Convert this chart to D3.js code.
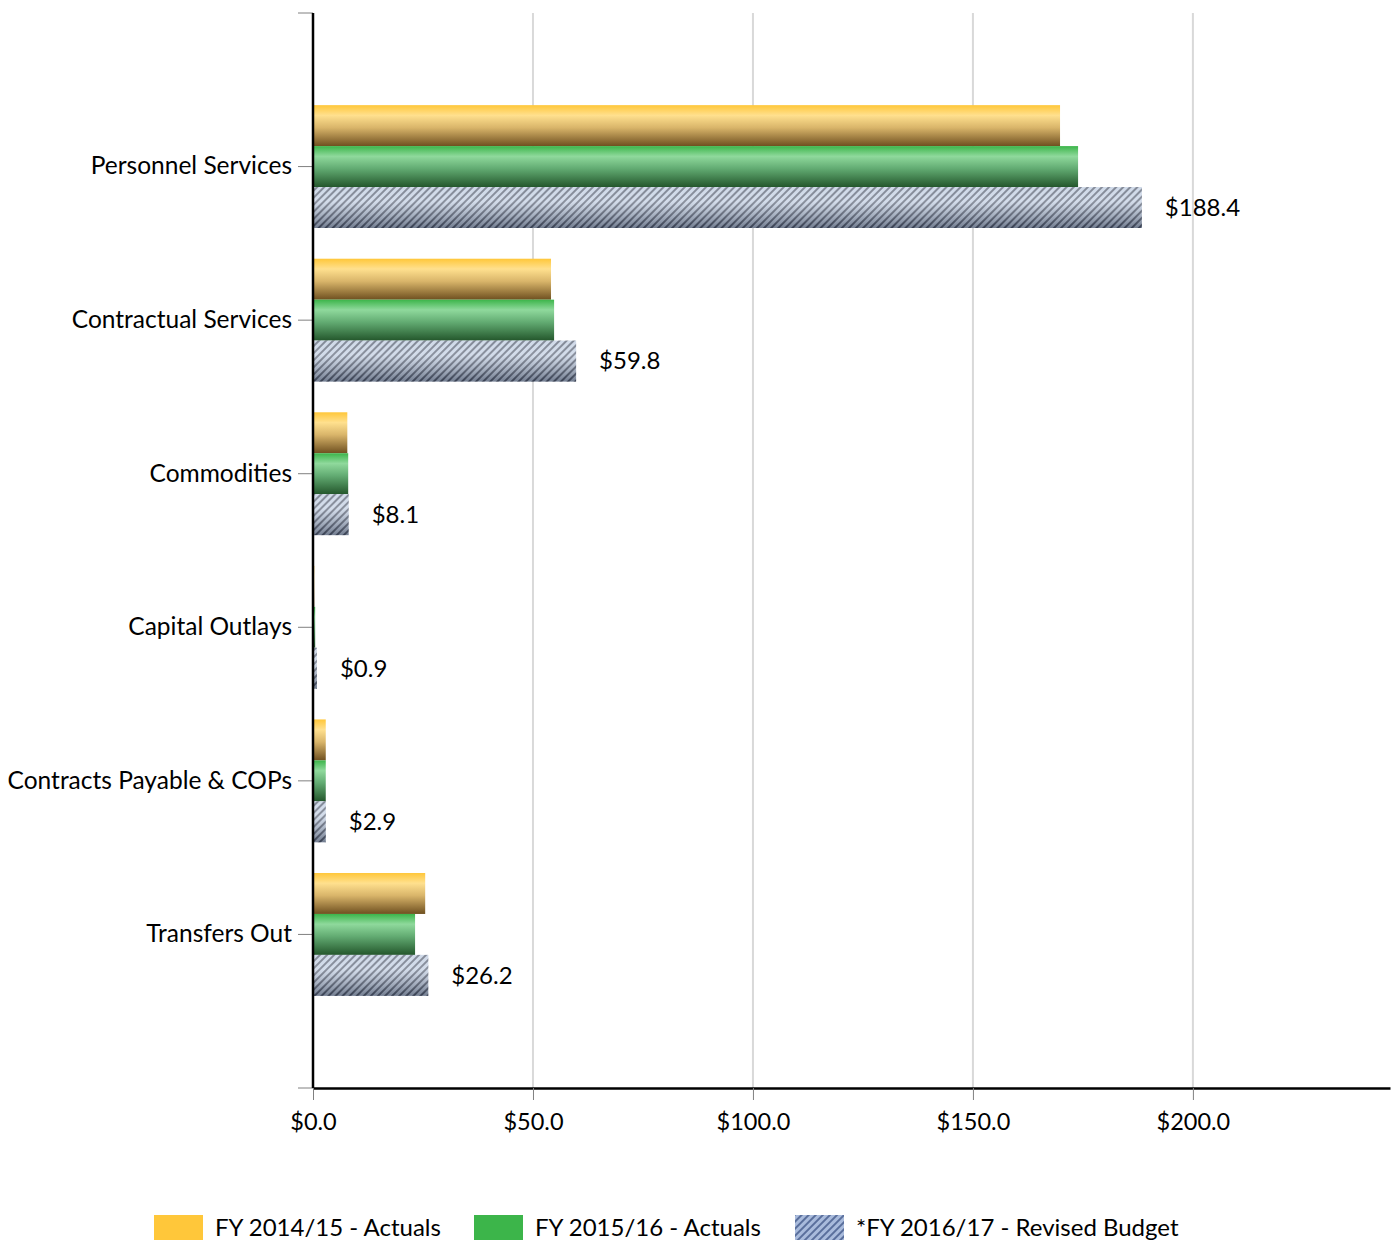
<!DOCTYPE html>
<html>
<head>
<meta charset="utf-8">
<script src="https://cdn.jsdelivr.net/npm/d3@7"></script>
<style>
  body { margin: 0; background: #fff; }
  svg { font-family: Lato, "Open Sans", sans-serif; }
</style>
</head>
<body>
<svg id="chart"></svg>
<script>
// data (millions)
const categories = ["Personnel Services", "Contractual Services", "Commodities", "Capital Outlays", "Contracts Payable & COPs", "Transfers Out"];
const seriesNames = ["FY 2014/15 - Actuals", "FY 2015/16 - Actuals", "*FY 2016/17 - Revised Budget"];
const fy1415 = [169.8, 54.1, 7.8, 0.3, 2.9, 25.5];
const fy1516 = [173.9, 54.8, 8.0, 0.5, 2.9, 23.2];
const fy1617 = [188.4, 59.8, 8.1, 0.9, 2.9, 26.2];
const xTicks = [0, 50, 100, 150, 200];

const W = 1393, H = 1241;
const margin = { top: 13, right: 3, bottom: 153, left: 313 };
const width = W - margin.left - margin.right;
const height = H - margin.top - margin.bottom;

const svg = d3.select("#chart").attr("width", W).attr("height", H);
const defs = svg.append("defs");

// gradients for bars
function vGrad(id, stops) {
  const g = defs.append("linearGradient").attr("id", id)
    .attr("x1", 0).attr("y1", 0).attr("x2", 0).attr("y2", 1);
  stops.forEach(s => g.append("stop").attr("offset", s[0]).attr("stop-color", s[1]));
}
vGrad("gYellow", [[0, "#ffc73a"], [0.25, "#ffe08e"], [0.55, "#d9b56a"], [1, "#6f5020"]]);
vGrad("gGreen", [[0, "#3cb54a"], [0.25, "#8fd99c"], [0.55, "#62ab72"], [1, "#24572c"]]);
const shade = defs.append("linearGradient").attr("id", "gShade")
  .attr("x1", 0).attr("y1", 0).attr("x2", 0).attr("y2", 1);
[[0, "#ffffff", 0.3], [0.35, "#ffffff", 0.35], [1, "#1a2030", 0.45]].forEach(s =>
  shade.append("stop").attr("offset", s[0]).attr("stop-color", s[1]).attr("stop-opacity", s[2]));

function hatch(id, bg, fg, size, sw) {
  const p = defs.append("pattern").attr("id", id)
    .attr("patternUnits", "userSpaceOnUse").attr("width", size).attr("height", size)
    .attr("patternTransform", "rotate(45)");
  p.append("rect").attr("width", size).attr("height", size).attr("fill", bg);
  p.append("rect").attr("width", sw).attr("height", size).attr("fill", fg);
}
hatch("hBar", "#bccadf", "#4e586c", 5, 2);
hatch("hLegend", "#a9bbdc", "#5a6f9c", 5, 2);

const g = svg.append("g").attr("transform", `translate(${margin.left},${margin.top})`);

const x = d3.scaleLinear().domain([0, 244.8]).range([0, width]);
const y = d3.scaleBand().domain(categories).range([0, height]).paddingInner(0.2).paddingOuter(0.6);
const ySub = d3.scaleBand().domain([0, 1, 2]).range([0, y.bandwidth()]);

// grid
g.selectAll(".grid").data(xTicks.slice(1)).join("line")
  .attr("x1", d => x(d)).attr("x2", d => x(d))
  .attr("y1", 0).attr("y2", height)
  .attr("stroke", "#d9d9d9").attr("stroke-width", 2);

// bars
const series = [fy1415, fy1516, fy1617];
const fills = ["url(#gYellow)", "url(#gGreen)", "url(#hBar)"];
series.forEach((vals, si) => {
  const grp = g.append("g");
  grp.selectAll("rect").data(categories).join("rect")
    .attr("x", 0)
    .attr("y", (c) => y(c) + ySub(si))
    .attr("width", (c, i) => x(vals[i]))
    .attr("height", ySub.bandwidth())
    .attr("fill", fills[si]);
  if (si === 2) {
    grp.selectAll("rect.sh").data(categories).join("rect").attr("class", "sh")
      .attr("x", 0)
      .attr("y", (c) => y(c) + ySub(si))
      .attr("width", (c, i) => x(vals[i]))
      .attr("height", ySub.bandwidth())
      .attr("fill", "url(#gShade)");
  }
});

// value labels on budget bars
g.selectAll(".val").data(categories).join("text")
  .attr("x", (c, i) => x(fy1617[i]) + 23)
  .attr("y", c => y(c) + ySub(2) + ySub.bandwidth() / 2)
  .attr("dy", "0.35em")
  .attr("font-size", 24)
  .attr("fill", "#000")
  .text((c, i) => "$" + d3.format(".1f")(fy1617[i]));

// y axis
const yAxis = g.append("g").call(d3.axisLeft(y).tickSize(15).tickPadding(6).tickSizeOuter(0));
yAxis.select(".domain").remove();
yAxis.selectAll(".tick line").attr("stroke", "#808080");
yAxis.selectAll(".tick text").attr("font-size", 24.5).attr("fill", "#000").attr("font-family", "Lato, 'Open Sans', sans-serif");
[0, height].forEach(v => g.append("line").attr("x1", -15).attr("x2", 0).attr("y1", v).attr("y2", v).attr("stroke", "#808080"));
g.append("line").attr("x1", 0).attr("x2", 0).attr("y1", 0).attr("y2", height).attr("stroke", "#000").attr("stroke-width", 2.5);

// x axis
const xAxis = g.append("g").attr("transform", `translate(0,${height})`)
  .call(d3.axisBottom(x).tickValues(xTicks).tickFormat(d => "$" + d3.format(".1f")(d)).tickSize(12).tickPadding(13).tickSizeOuter(0));
xAxis.select(".domain").attr("stroke", "#000").attr("stroke-width", 2.5);
xAxis.selectAll(".tick line").attr("stroke", "#808080");
xAxis.selectAll(".tick text").attr("font-size", 23.5).attr("fill", "#000").attr("font-family", "Lato, 'Open Sans', sans-serif");

// legend
const legendX = [154, 474, 795];
const legendFills = ["#ffc73a", "#3cb54a", "url(#hLegend)"];
const lg = svg.append("g");
seriesNames.forEach((name, i) => {
  lg.append("rect").attr("x", legendX[i]).attr("y", 1215).attr("width", 49).attr("height", 25).attr("fill", legendFills[i]);
  lg.append("text").attr("x", legendX[i] + 61).attr("y", 1227.5).attr("dy", "0.35em")
    .attr("font-size", 24).attr("fill", "#000").text(name);
});
</script>
</body>
</html>
